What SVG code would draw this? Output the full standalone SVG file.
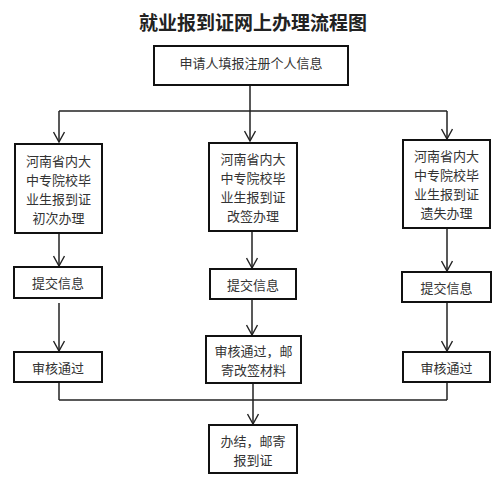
<svg xmlns="http://www.w3.org/2000/svg" width="500" height="484" viewBox="0 0 500 484">
<defs>
<marker id="arr" viewBox="0 0 12 12" refX="11" refY="6" markerWidth="12" markerHeight="12" markerUnits="userSpaceOnUse" orient="auto">
<path d="M1,0.5 L11,6 L1,11.5" fill="none" stroke="#222" stroke-width="1.4"/>
</marker>
</defs>
<style>
.box{fill:#fff;stroke:#111;stroke-width:2}
.t{font-family:"Noto Sans CJK SC","Noto Sans",sans-serif;font-size:13px;fill:#333;text-anchor:middle;dominant-baseline:central}
.title{font-family:"Noto Sans CJK SC","Noto Sans",sans-serif;font-size:19px;font-weight:bold;fill:#222;text-anchor:middle;dominant-baseline:central}
.ln{fill:none;stroke:#222;stroke-width:1.5}
</style>
<rect width="500" height="484" fill="#fff"/>
<text class="title" x="253" y="21">就业报到证网上办理流程图</text>
<g id="connectors">
<line class="ln" x1="250" y1="85" x2="250" y2="111"/>
<line class="ln" x1="59" y1="111" x2="447" y2="111"/>
<line class="ln" x1="59" y1="111" x2="59" y2="142" marker-end="url(#arr)"/>
<line class="ln" x1="250" y1="111" x2="250" y2="141" marker-end="url(#arr)"/>
<line class="ln" x1="447" y1="111" x2="447" y2="139" marker-end="url(#arr)"/>
<line class="ln" x1="59" y1="233" x2="59" y2="266" marker-end="url(#arr)"/>
<line class="ln" x1="252" y1="231" x2="252" y2="268" marker-end="url(#arr)"/>
<line class="ln" x1="447" y1="228" x2="447" y2="271" marker-end="url(#arr)"/>
<line class="ln" x1="59" y1="303" x2="59" y2="351" marker-end="url(#arr)"/>
<line class="ln" x1="252" y1="299" x2="252" y2="335" marker-end="url(#arr)"/>
<line class="ln" x1="447" y1="302" x2="447" y2="351" marker-end="url(#arr)"/>
<line class="ln" x1="59" y1="382" x2="59" y2="400"/>
<line class="ln" x1="447" y1="382" x2="447" y2="400"/>
<line class="ln" x1="59" y1="400" x2="447" y2="400"/>
<line class="ln" x1="253" y1="383" x2="253" y2="424" marker-end="url(#arr)"/>
</g>
<g id="n-start">
<rect class="box" x="154" y="46" width="194" height="39"/>
<text class="t" x="251" y="62">申请人填报注册个人信息</text>
</g>
<g id="n-first">
<rect class="box" x="15" y="144" width="87" height="89"/>
<text class="t" x="58.5" y="160">河南省内大</text>
<text class="t" x="58.5" y="179">中专院校毕</text>
<text class="t" x="58.5" y="198">业生报到证</text>
<text class="t" x="58.5" y="217">初次办理</text>
</g>
<g id="n-change">
<rect class="box" x="209" y="143" width="88" height="88"/>
<text class="t" x="253" y="158">河南省内大</text>
<text class="t" x="253" y="177">中专院校毕</text>
<text class="t" x="253" y="196">业生报到证</text>
<text class="t" x="253" y="215">改签办理</text>
</g>
<g id="n-lost">
<rect class="box" x="403" y="140" width="87" height="88"/>
<text class="t" x="446.5" y="155">河南省内大</text>
<text class="t" x="446.5" y="174">中专院校毕</text>
<text class="t" x="446.5" y="193">业生报到证</text>
<text class="t" x="446.5" y="212">遗失办理</text>
</g>
<g id="n-submit1">
<rect class="box" x="14" y="267" width="88" height="31"/>
<text class="t" x="58" y="282.5">提交信息</text>
</g>
<g id="n-submit2">
<rect class="box" x="210" y="269" width="86" height="30"/>
<text class="t" x="253" y="284">提交信息</text>
</g>
<g id="n-submit3">
<rect class="box" x="402" y="272" width="89" height="30"/>
<text class="t" x="446.5" y="287">提交信息</text>
</g>
<g id="n-pass1">
<rect class="box" x="14" y="352" width="88" height="30"/>
<text class="t" x="58" y="367">审核通过</text>
</g>
<g id="n-pass2">
<rect class="box" x="206" y="336" width="95" height="47"/>
<text class="t" x="253.5" y="350">审核通过，邮</text>
<text class="t" x="253.5" y="369">寄改签材料</text>
</g>
<g id="n-pass3">
<rect class="box" x="403" y="352" width="87" height="30"/>
<text class="t" x="446.5" y="367">审核通过</text>
</g>
<g id="n-end">
<rect class="box" x="209" y="425" width="88" height="48"/>
<text class="t" x="253" y="440">办结，邮寄</text>
<text class="t" x="253" y="459">报到证</text>
</g>
</svg>
